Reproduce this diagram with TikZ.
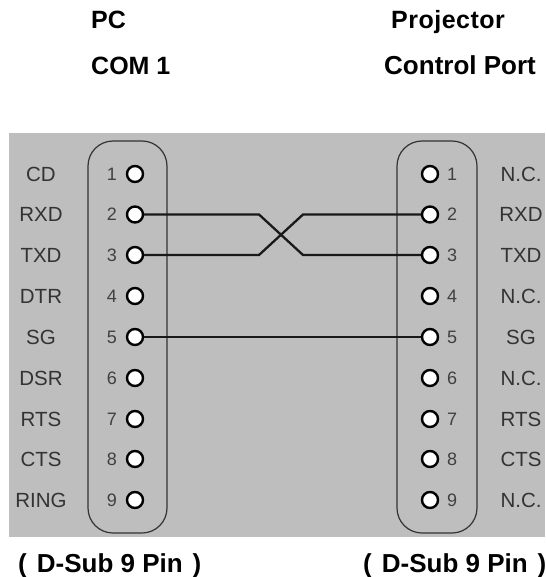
\documentclass[tikz,border=0pt]{standalone}
\usepackage{fontspec}
\setmainfont{Liberation Sans}
\definecolor{panel}{HTML}{BEBEBE}
\begin{document}
\begin{tikzpicture}[x=1pt,y=-1pt,
  pin/.style={circle,draw=black,line width=2.4pt,fill=white,minimum size=16pt,inner sep=0pt},
  sig/.style={font=\fontsize{20.5}{20.5}\selectfont,text=black!80,inner sep=0pt,anchor=center},
  num/.style={font=\fontsize{18}{18}\selectfont,text=black!75,inner sep=0pt,anchor=center},
  ttl/.style={font=\bfseries\fontsize{25}{25}\selectfont,inner sep=0pt,anchor=base west},
  ttlb/.style={ttl,font=\bfseries\fontsize{26}{26}\selectfont},
  shell/.style={draw=black!80,line width=1.2pt,rounded corners=25pt},
  wire/.style={draw=black!90,line width=2.3pt}]
\useasboundingbox (0,0) rectangle (545,577);
\fill[panel] (9,133) rectangle (545,537);
\draw[shell] (88,141) rectangle (167,533);
\draw[shell] (397,141) rectangle (477,533);
\coordinate (a1) at (259,214.5);
\coordinate (a2) at (303,255);
\coordinate (b1) at (259,255);
\coordinate (b2) at (303,214.5);
\foreach \i/\y/\a/\b in {1/174/CD/N.C.,2/214.5/RXD/RXD,3/255/TXD/TXD,4/296/DTR/N.C.,5/337/SG/SG,6/378/DSR/N.C.,7/419/RTS/RTS,8/459/CTS/CTS,9/500/RING/N.C.}{
  \coordinate (CL\i) at (135,\y);
  \coordinate (CR\i) at (430,\y);
  \node[num] (NL\i) at (112,\y) {\i};
  \node[num] (NR\i) at (452,\y) {\i};
  \node[sig] (SL\i) at (41,\y) {\a};
  \node[sig] (SR\i) at (521,\y) {\b};
}
\draw[wire] (CL2) -- (a1) -- (a2) -- (CR3);
\draw[wire] (CL3) -- (b1) -- (b2) -- (CR2);
\draw[wire] (CL5) -- (CR5);
\foreach \i in {1,...,9}{
  \node[pin] (L\i) at (CL\i) {};
  \node[pin] (R\i) at (CR\i) {};
}
\node[ttl] (t1) at (91,29) {PC};
\node[ttl] (t2) at (91,75) {COM 1};
\node[ttl] (t3) at (391,29) {\addfontfeature{LetterSpace=2}Projector};
\node[ttlb] (t4) at (384,75) {Control Port};
\node[ttlb] (t5) at (18,572) {(\hspace{10pt}D-Sub 9 Pin\hspace{10pt})};
\node[ttlb] (t6) at (363,572) {(\hspace{10pt}D-Sub 9 Pin\hspace{10pt})};
\end{tikzpicture}
\end{document}
